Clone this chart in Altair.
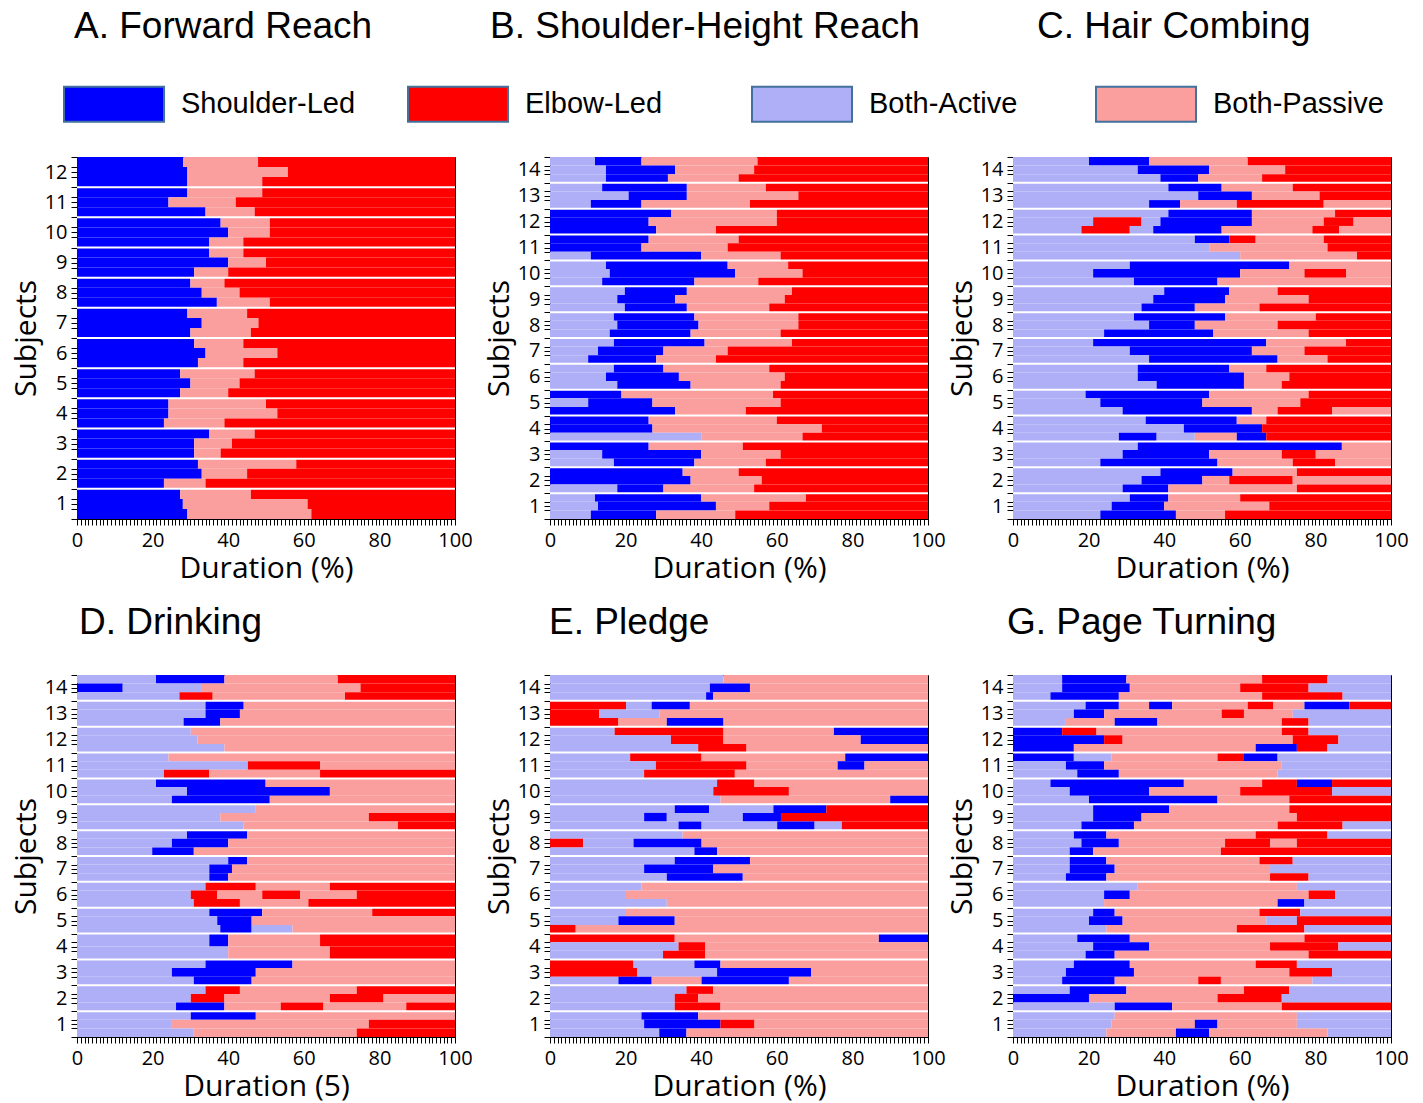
import altair as alt
import pandas as pd

CATS = ["Shoulder-Led", "Elbow-Led", "Both-Active", "Both-Passive"]
CODE = {"S": "Shoulder-Led", "E": "Elbow-Led", "A": "Both-Active", "P": "Both-Passive"}
COLORS = ["#0000FF", "#FF0000", "#AFAFF7", "#FA9E9E"]

# Each subject (1 = bottom) lists its trial rows from top to bottom.
# A row is a run of segments: code + end (%) of that segment.
forward_reach = [
    ["S27.3 P46 E100", "S28 P61 E100", "S29.2 P62 E100"],
    ["S32 P58 E100", "S33 P45 E100", "S23 P34 E100"],
    ["S35 P47 E100", "S31 P41 E100", "S31 P38 E100"],
    ["S24.2 P50 E100", "S24.2 P53 E100", "S23 P39 E100"],
    ["S27.3 P47 E100", "S30 P43 E100", "S27.3 P40 E100"],
    ["S31 P44 E100", "S34 P53 E100", "S32 P44 E100"],
    ["S29.2 P45 E100", "S33 P48 E100", "S30 P46 E100"],
    ["S30 P39 E100", "S33 P43 E100", "S37 P51 E100"],
    ["S35 P44 E100", "S40 P50 E100", "S31 P40 E100"],
    ["S38 P51 E100", "S40 P51 E100", "S35 P44 E100"],
    ["S29.2 P49 E100", "S24.2 P42 E100", "S34 P47 E100"],
    ["S28.1 P47.9 E100", "S29.2 P55.8 E100", "S29.2 P49 E100"],
]

shoulder_height = [
    ["A11.9 S40 P67.7 E100", "A12.7 S43.9 P58 E100", "A10.8 S28.1 P49 E100"],
    ["S35.1 P49.9 E100", "S37.2 P56 E100", "A17.8 S30 P54 E100"],
    ["S26.1 P51 E100", "A13.8 S40 P61 E100", "A16.9 S38.2 P57.1 E100"],
    ["S26.1 P60 E100", "S27.1 P71.9 E100", "A40 P66.8 E100"],
    ["S18.9 P59 E100", "A10.1 S27.1 P61 E100", "S33.1 P51.8 E100"],
    ["A16.9 S30 P58 E100", "A14.8 S34.1 P62.1 E100", "A17.8 S37.2 P61 E100"],
    ["A16.9 S40.9 P64 E100", "A12.7 S30 P47 E100", "A10.1 S28.1 P43.9 E100"],
    ["A16.9 S38.2 P65.7 E100", "A17.8 S39.3 P65.7 E100", "A15.8 S37.2 P61 E100"],
    ["A19.8 S36.2 P64 E100", "A17.8 S33.1 P62.1 E100", "A19.8 S36.2 P58 E100"],
    ["A14.8 S47 P63 E100", "A15.8 S49 P66.8 E100", "A13.8 S38.2 P55.1 E100"],
    ["S26.1 P49.9 E100", "S24.2 P47 E100", "A10.8 S40 P61 E100"],
    ["S32.1 P60 E100", "S26.1 P60 E100", "S28.1 P43.9 E100"],
    ["A13.8 S36.2 P57.1 E100", "A20.8 S36.2 P65.7 E100", "A10.8 S24.2 P52.9 E100"],
    ["A11.9 S24.2 P54.9 E100", "A14.8 S33.1 P54 E100", "A14.8 S31.2 P49.9 E100"],
]

hair_combing = [
    ["A30.9 S41.1 P60.1 E100", "A26.1 S40 P67.8 E100", "A23.1 S43.1 P56.1 E100"],
    ["A39 S58.1 P75.1 E100", "A34 S50.1 P57.2 E74 P100", "A29 S41.1 P75.1 E100"],
    ["A33 S87 P100", "A29 S51.9 P71.1 E80.1 P100", "A23.1 S54.1 P74 E85.2 P100"],
    ["A35.1 S59.2 P67 E100", "A45.2 S65.9 E100", "A28 S38 A48.1 P59.2 S67 E100"],
    ["A19.2 S51.9 P78.2 E100", "A23.1 S50.1 P76 E100", "A29 S63.2 P70 E84.4 P100"],
    ["A33 S57.2 P67 E100", "A33 S61.1 P73.1 E100", "A38 S61.1 P71.1 E100"],
    ["A21.2 S67 P88.1 E100", "A30.9 S63.2 P77.1 E100", "A36 S70 P83.2 E100"],
    ["A32 S56.1 P80.1 E100", "A36 S48.1 P70 E100", "A24.1 S53 P78.2 E100"],
    ["A40 S57.2 P70 E100", "A37.1 S56.1 P78.2 E100", "A34 S48.1 P65.2 E100"],
    ["A30.9 S73.1 P100", "A21.2 S60.1 P77.1 E88.1 P100", "A32 S54.1 P100"],
    ["A48.1 S57.2 E64.2 P82.2 E100", "A51.9 P83.2 E100", "A60.1 P91 E100"],
    ["A41.1 S63.2 P85.2 E100", "A21.2 E34 A39 S63.2 P82.2 E90.1 P100",
     "A18.1 E30.9 A37.1 S55.2 P79.2 E86.3 P100"],
    ["A41.1 S55.2 P74 E100", "A49 S63.2 P81.1 E100", "A36 S44.2 P59.2 E82.2 P100"],
    ["A20.1 S36 P62.1 E100", "A33 S51.9 P72 E100", "A39 S49 P65.9 E100"],
]

drinking = [
    ["A30.1 S47.3 P100", "A25.1 P77.2 E100", "A30.9 P74 E100"],
    ["A34 E43.1 P74 E100", "A30.1 E39 P66.9 E81.1 P100", "A26.2 S39 P53.9 E65.2 P87.1 E100"],
    ["A34 S57 P100", "A25.1 S47.3 P100", "A30.9 S46.2 P100"],
    ["A35 S40 P64.3 E100", "A40 P66.9 E100"],
    ["A35 S49 P78.1 E100", "A37.1 S46.2 P100", "A37.9 S46.2 A57 P100"],
    ["A34 E47.3 P66.9 E100", "A30.1 E37.1 P49 E59 P74 E100", "A30.9 E43.1 P61.2 E100"],
    ["A40 S45 P100", "A35 S41 P100", "A35 S40 P100"],
    ["A29.1 S45 P100", "A25.1 S40 P100", "A19.9 S30.9 P100"],
    ["A47.3 P100", "A37.9 P77.2 E100", "A44.1 P84.9 E100"],
    ["A20.9 S49.9 P100", "A29.1 S66.9 P100", "A25.1 S51 P100"],
    ["A24.2 P100", "A45.2 E64.3 P100", "A23 E35 P64.3 E100"],
    ["A30.1 P100", "A31.9 P100", "A39 P100"],
    ["A34 S44.1 P100", "A34 S43.1 P100", "A28.2 S37.9 P100"],
    ["A20.9 S39 P69 E100", "S12.1 A32.8 P75 E100", "A27.1 E35.9 P70.9 E100"],
]

pledge = [
    ["A24.2 S39.2 P100", "A24.9 S45.1 E54.1 P100", "A28.9 S36.1 P100"],
    ["A36.1 E43.2 P100", "A33 E39.2 P100", "A33 E45.1 P100"],
    ["E22.1 A38.2 S45.1 P100", "E23.1 A44.2 S69.1 P100", "A18.1 S26.9 P40.1 S63.2 P100"],
    ["E33 P87 S100", "A34 E41.1 P100", "A29.9 E41.1 P100"],
    ["A20.1 P100", "A18.1 S33 P100", "E6.8 P100"],
    ["A24.2 P100", "A20.1 P100", "A30.9 P100"],
    ["A33 S52.9 P100", "A24.9 S43.2 P100", "A30.9 S51 P100"],
    ["A35.1 P100", "E8.8 A22.1 S40.1 P100", "A38.2 S44.2 P100"],
    ["A33 S42.1 A59.1 S73.1 E100", "A24.9 S30.9 A51 S61.1 E100",
     "A34 S40.1 A60.1 S70 A77.2 E100"],
    ["A44.2 E54.1 P100", "A43.2 E63.2 P100", "A45.1 P90 S100"],
    ["A21.2 E40.1 P78.1 S100", "A28 E52 P76.1 S83.2 P100", "A24.9 E48.9 P100"],
    ["A17.1 E45.9 P75.1 S100", "A32 E45.9 P82.2 S100", "A39.2 E52 P100"],
    ["E20.1 A26.9 S37 P100", "E13 A28.9 P100", "E18.1 P30.9 S45.9 P100"],
    ["A45.9 P100", "A42.3 S52.9 P100", "A41.3 S43.2 P100"],
]

page_turning = [
    ["A26.9 P75.1 A100", "A26.1 P48.1 S54.1 P75.1 A100", "A24.7 P43.1 S51.9 P83.2 A100"],
    ["A15 S30 P61.1 E73.1 A100", "S20.1 P54.1 E71.1 A100", "A26.9 S42.1 P71.1 E100"],
    ["A16.1 S30.9 P64.2 E75.1 A100", "A14 S32 P73.1 E84.4 A100", "A13 S26.9 P49 E55 P79.2 A100"],
    ["A17 S30.9 P77.1 E100", "A21.2 S36 P68 E86.1 A100", "A19.2 S26.9 P78.2 E100"],
    ["A21.2 S26.9 P65.2 E76 A100", "A20.1 S29 P67 A75.1 E100", "A24.7 P59.2 E77.1 A100"],
    ["A33 P75.1 A100", "A24.1 S30.9 P78.2 E85.2 A100", "A24.1 P70 S77.1 A100"],
    ["A15 S24.7 P65.2 E74 A100", "A15 S26.9 P68 A100", "A14 S24.7 P68 E78.2 A100"],
    ["A16.1 S24.7 P64.2 E83.2 A100", "A18.1 S28 P56.1 E68 P75.1 E100", "A15 S21.2 P55 E100"],
    ["A21.2 S41.3 P73.1 E100", "A21.2 S34 P75.1 E100", "A18.1 S32 P70 E87.2 A100"],
    ["A9.9 S45.2 P65.9 E75.1 S84.4 E100", "A15 S36 P60.1 E84.4 A100", "A20.1 S54.1 P73.1 E100"],
    ["S16.1 A26.1 P54.1 E61.1 S70 A100", "A14 S24.1 P71.1 A100", "A17 S28 P70 A100"],
    ["S13 E22.1 P71.1 E78.2 A100", "S24.1 E29 P74 E86.1 A100", "S16.1 P64.2 S75.1 E83.2 A100"],
    ["A19.2 S28 P36 S42.1 P62.1 E68.9 P77.1 S89 E100", "A16.1 S24.1 P55.2 E61.1 P74 A100",
     "A14 P26.9 S38.2 P71.1 E78.2 A100"],
    ["A13 S30 P65.9 E83.2 A100", "A13 S30.9 P60.1 E78.2 A100", "A9.9 S28 P65.9 E87.2 A100"],
]

PANELS = [
    ("A. Forward Reach", forward_reach, "Duration (%)", -3),
    ("B. Shoulder-Height Reach", shoulder_height, "Duration (%)", -60),
    ("C. Hair Combing", hair_combing, "Duration (%)", 24),
    ("D. Drinking", drinking, "Duration (5)", 2),
    ("E. Pledge", pledge, "Duration (%)", -1),
    ("G. Page Turning", page_turning, "Duration (%)", -6),
]

W, H = 378, 362
LABEL_FONT = "Open Sans"
TITLE_FONT = "Liberation Sans"


def make_df(subjects):
    recs = []
    for s_idx, rows in enumerate(subjects, start=1):
        n = len(rows)
        for r_idx, row in enumerate(rows):
            top = s_idx - r_idx / n
            bot = s_idx - (r_idx + 1) / n
            start = 0.0
            for tok in row.split():
                code, end = tok[0], float(tok[1:])
                recs.append(dict(cat=CODE[code], x0=start, x1=end, y0=bot, y1=top))
                start = end
    return pd.DataFrame(recs)


legend = alt.Legend(
    orient="none", direction="horizontal", legendX=-14, legendY=-104,
    title=None, columns=4, gridAlign="all", columnPadding=48,
    symbolType="M-1,-0.35H1V0.35H-1Z", symbolSize=10000,
    symbolStrokeColor="#41719C", symbolStrokeWidth=2, symbolOpacity=1,
    labelFont=TITLE_FONT, labelFontSize=29, labelColor="black",
    labelOffset=16, labelLimit=400, padding=0,
)


def panel(title, subjects, xtitle, dx, top_row):
    n = len(subjects)
    df = make_df(subjects)
    yvals = sorted(set([round(k / 3, 4) for k in range(0, 3 * n + 1)] +
                       [s - 0.5 for s in range(1, n + 1)]))
    xenc = alt.X(
        "x0:Q", scale=alt.Scale(domain=[0, 100], nice=False, zero=False),
        axis=alt.Axis(values=list(range(0, 101)),
                      labelExpr="datum.value % 20 == 0 ? datum.value : ''",
                      title=xtitle, labelOverlap=False, labelFlush=False,
                      tickSize=6, labelPadding=5, titlePadding=3, grid=False),
    )
    yenc = alt.Y(
        "y0:Q", scale=alt.Scale(domain=[0, n], nice=False, zero=False),
        axis=alt.Axis(values=yvals,
                      labelExpr="abs(datum.value - floor(datum.value) - 0.5) < 0.01 ? floor(datum.value) + 1 : ''",
                      title="Subjects", labelOverlap=False, labelFlush=False,
                      tickSize=6, labelPadding=4, titlePadding=3, grid=False),
    )
    bars = alt.Chart(df).mark_rect().encode(
        x=xenc, x2="x1:Q", y=yenc, y2="y1:Q",
        color=alt.Color("cat:N", scale=alt.Scale(domain=CATS, range=COLORS), legend=legend),
    )
    seps = alt.Chart(pd.DataFrame({"y0": [float(b) for b in range(1, n)]})).mark_rule(
        color="white", strokeWidth=2
    ).encode(y=yenc)
    t = alt.Title(title, fontSize=37, font=TITLE_FONT, fontWeight="normal",
                  anchor="start", frame="group", dx=dx,
                  offset=101 if top_row else 23, color="black")
    return alt.layer(bars, seps).properties(width=W, height=H, title=t)


p = [panel(t, s, x, d, i < 3) for i, (t, s, x, d) in enumerate(PANELS)]
row1 = alt.hconcat(alt.hconcat(p[0], p[1], spacing=10), p[2], spacing=0)
row2 = alt.hconcat(alt.hconcat(p[3], p[4], spacing=10), p[5], spacing=0)

chart = alt.vconcat(row1, row2, spacing=19).properties(
    padding={"left": 2, "top": -1, "right": 0, "bottom": 0}
).configure_view(
    stroke="black", strokeWidth=1
).configure_axis(
    labelFont=LABEL_FONT, labelFontSize=20, labelColor="black",
    titleFont=LABEL_FONT, titleFontSize=30, titleFontWeight="normal", titleColor="black",
    domainColor="black", tickColor="black",
)

chart.save("out.html", embed_options={"renderer": "svg", "actions": False})
